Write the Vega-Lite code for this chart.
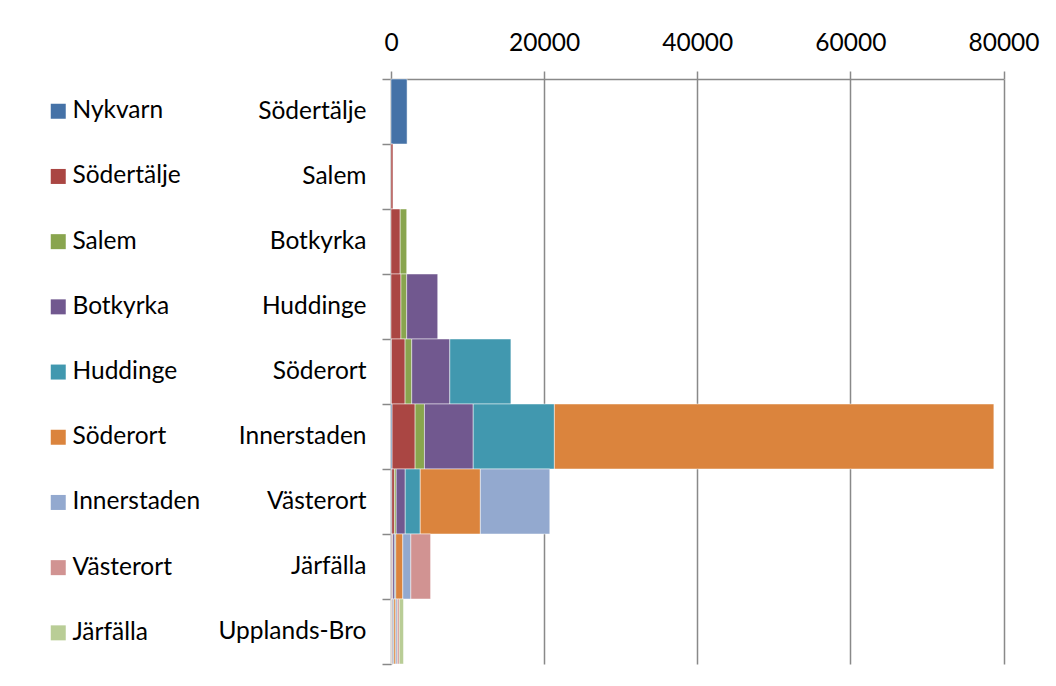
{
  "$schema": "https://vega.github.io/schema/vega-lite/v6.json",
  "width": 612.5,
  "height": 585,
  "autosize": {"type": "none"},
  "padding": {"left": 391, "top": 79, "right": 52, "bottom": 22},
  "background": "white",
  "config": {
    "view": {"stroke": null},
    "font": "Lato",
    "axis": {"labelFont": "Lato", "labelColor": "black", "labelFontSize": 24.5, "domainColor": "#898989", "tickColor": "#898989", "gridColor": "#898989", "domainWidth": 1.5, "tickWidth": 1.5, "gridWidth": 1.5}
  },
  "data": {
    "values": [
      {"area": "Södertälje", "origin": "Nykvarn", "value": 2100},
      {"area": "Salem", "origin": "Södertälje", "value": 250},
      {"area": "Botkyrka", "origin": "Södertälje", "value": 1200},
      {"area": "Botkyrka", "origin": "Salem", "value": 850},
      {"area": "Huddinge", "origin": "Södertälje", "value": 1300},
      {"area": "Huddinge", "origin": "Salem", "value": 750},
      {"area": "Huddinge", "origin": "Botkyrka", "value": 4050},
      {"area": "Söderort", "origin": "Nykvarn", "value": 60},
      {"area": "Söderort", "origin": "Södertälje", "value": 1780},
      {"area": "Söderort", "origin": "Salem", "value": 870},
      {"area": "Söderort", "origin": "Botkyrka", "value": 4970},
      {"area": "Söderort", "origin": "Huddinge", "value": 7980},
      {"area": "Innerstaden", "origin": "Nykvarn", "value": 150},
      {"area": "Innerstaden", "origin": "Södertälje", "value": 3000},
      {"area": "Innerstaden", "origin": "Salem", "value": 1220},
      {"area": "Innerstaden", "origin": "Botkyrka", "value": 6370},
      {"area": "Innerstaden", "origin": "Huddinge", "value": 10600},
      {"area": "Innerstaden", "origin": "Söderort", "value": 57400},
      {"area": "Västerort", "origin": "Nykvarn", "value": 100},
      {"area": "Västerort", "origin": "Södertälje", "value": 350},
      {"area": "Västerort", "origin": "Salem", "value": 230},
      {"area": "Västerort", "origin": "Botkyrka", "value": 1180},
      {"area": "Västerort", "origin": "Huddinge", "value": 1960},
      {"area": "Västerort", "origin": "Söderort", "value": 7850},
      {"area": "Västerort", "origin": "Innerstaden", "value": 9070},
      {"area": "Järfälla", "origin": "Nykvarn", "value": 60},
      {"area": "Järfälla", "origin": "Södertälje", "value": 120},
      {"area": "Järfälla", "origin": "Salem", "value": 50},
      {"area": "Järfälla", "origin": "Botkyrka", "value": 260},
      {"area": "Järfälla", "origin": "Huddinge", "value": 130},
      {"area": "Järfälla", "origin": "Söderort", "value": 920},
      {"area": "Järfälla", "origin": "Innerstaden", "value": 1050},
      {"area": "Järfälla", "origin": "Västerort", "value": 2580},
      {"area": "Upplands-Bro", "origin": "Nykvarn", "value": 30},
      {"area": "Upplands-Bro", "origin": "Södertälje", "value": 80},
      {"area": "Upplands-Bro", "origin": "Salem", "value": 50},
      {"area": "Upplands-Bro", "origin": "Botkyrka", "value": 120},
      {"area": "Upplands-Bro", "origin": "Huddinge", "value": 100},
      {"area": "Upplands-Bro", "origin": "Söderort", "value": 250},
      {"area": "Upplands-Bro", "origin": "Innerstaden", "value": 200},
      {"area": "Upplands-Bro", "origin": "Västerort", "value": 250},
      {"area": "Upplands-Bro", "origin": "Järfälla", "value": 550}
    ]
  },
  "transform": [
    {"calculate": "indexof(['Nykvarn','Södertälje','Salem','Botkyrka','Huddinge','Söderort','Innerstaden','Västerort','Järfälla'], datum.origin)", "as": "seriesOrder"}
  ],
  "mark": {"type": "bar", "stroke": "white", "strokeWidth": 0.8, "strokeOpacity": 0.6},
  "encoding": {
    "y": {
      "field": "area", "type": "nominal",
      "sort": ["Södertälje", "Salem", "Botkyrka", "Huddinge", "Söderort", "Innerstaden", "Västerort", "Järfälla", "Upplands-Bro"],
      "scale": {"paddingInner": 0, "paddingOuter": 0},
      "axis": {"title": null, "tickBand": "extent", "tickSize": 9, "labelPadding": 16, "grid": false}
    },
    "x": {
      "field": "value", "type": "quantitative", "stack": "zero",
      "scale": {"domain": [0, 80000], "nice": false},
      "axis": {"orient": "top", "title": null, "values": [0, 20000, 40000, 60000, 80000], "format": "d", "tickSize": 8, "labelPadding": 16, "labelFlush": false, "labelOverlap": false, "grid": true, "domain": true}
    },
    "order": {"field": "seriesOrder", "type": "quantitative", "sort": "ascending"},
    "color": {
      "field": "origin", "type": "nominal",
      "sort": ["Nykvarn", "Södertälje", "Salem", "Botkyrka", "Huddinge", "Söderort", "Innerstaden", "Västerort", "Järfälla"],
      "scale": {
        "domain": ["Nykvarn", "Södertälje", "Salem", "Botkyrka", "Huddinge", "Söderort", "Innerstaden", "Västerort", "Järfälla"],
        "range": ["#4572A7", "#AA4643", "#89A54E", "#71588F", "#4198AF", "#DB843D", "#93A9CF", "#D19392", "#B9CD96"]
      },
      "legend": {
        "title": null, "orient": "none", "legendX": -345, "legendY": 20, "padding": 0,
        "symbolType": "square", "symbolSize": 225, "symbolStrokeWidth": 0,
        "labelFont": "Lato", "labelFontSize": 24.5, "labelColor": "black", "labelOffset": 2,
        "rowPadding": 40.2, "labelLimit": 300
      }
    }
  }
}
